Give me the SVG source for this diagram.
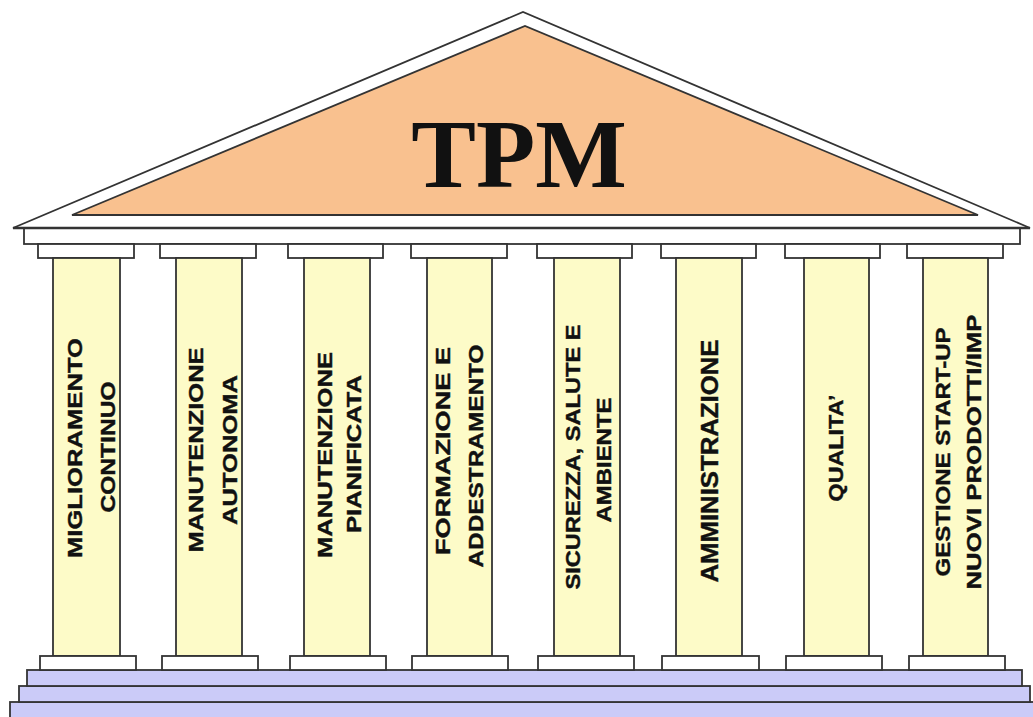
<svg xmlns="http://www.w3.org/2000/svg" width="1033" height="717" viewBox="0 0 1033 717">
<style>
.ln{stroke:#333;stroke-width:1.8;}
.wh{fill:#fff;}
.sh{fill:#fdfbc8;}
.st{fill:#cbcbf8;}
.lb{font-family:"Liberation Sans",Arial,sans-serif;font-weight:bold;font-size:21px;fill:#111;stroke:#111;stroke-width:0.4;text-anchor:middle;}
.tpm{font-family:"Liberation Serif","Times New Roman",serif;font-weight:bold;font-size:97px;fill:#111;text-anchor:middle;}
</style>
<rect width="1033" height="717" fill="#fff"/>
<g id="roof">
<polygon class="ln wh" points="13,228 523,12 1030,228"/>
<polygon class="ln" fill="#f9c18f" points="72,215 525,26 978,215"/>
<text class="tpm" x="519" y="187">TPM</text>
<rect class="ln wh" x="24" y="228" width="996" height="16"/>
<line class="ln" x1="13" y1="228" x2="1030" y2="228" style="stroke-width:2.5"/>
</g>
<g id="base">
<rect class="ln st" x="10" y="702" width="1035" height="25"/>
<rect class="ln st" x="19" y="686" width="1011" height="16"/>
<rect class="ln st" x="27" y="670" width="995" height="16"/>
</g>
<g id="col1">
<rect class="ln wh" x="38" y="244" width="96" height="14"/>
<rect class="ln sh" x="53" y="258" width="67" height="398"/>
<rect class="ln wh" x="40" y="656" width="96" height="14"/>
<text class="lb" transform="translate(82,448) rotate(-90)" textLength="220" lengthAdjust="spacingAndGlyphs">MIGLIORAMENTO</text>
<text class="lb" transform="translate(115,447) rotate(-90)" textLength="131" lengthAdjust="spacingAndGlyphs">CONTINUO</text>
</g>
<g id="col2">
<rect class="ln wh" x="160" y="244" width="96" height="14"/>
<rect class="ln sh" x="176" y="258" width="66" height="398"/>
<rect class="ln wh" x="162" y="656" width="96" height="14"/>
<text class="lb" transform="translate(203,450) rotate(-90)" textLength="205" lengthAdjust="spacingAndGlyphs">MANUTENZIONE</text>
<text class="lb" transform="translate(237,450) rotate(-90)" textLength="150" lengthAdjust="spacingAndGlyphs">AUTONOMA</text>
</g>
<g id="col3">
<rect class="ln wh" x="288" y="244" width="95" height="14"/>
<rect class="ln sh" x="304" y="258" width="66" height="398"/>
<rect class="ln wh" x="290" y="656" width="96" height="14"/>
<text class="lb" transform="translate(332,455) rotate(-90)" textLength="206" lengthAdjust="spacingAndGlyphs">MANUTENZIONE</text>
<text class="lb" transform="translate(361,454) rotate(-90)" textLength="158" lengthAdjust="spacingAndGlyphs">PIANIFICATA</text>
</g>
<g id="col4">
<rect class="ln wh" x="411" y="244" width="96" height="14"/>
<rect class="ln sh" x="427" y="258" width="65" height="398"/>
<rect class="ln wh" x="412" y="656" width="96" height="14"/>
<text class="lb" transform="translate(450,451) rotate(-90)" textLength="208" lengthAdjust="spacingAndGlyphs">FORMAZIONE E</text>
<text class="lb" transform="translate(483,456) rotate(-90)" textLength="223" lengthAdjust="spacingAndGlyphs">ADDESTRAMENTO</text>
</g>
<g id="col5">
<rect class="ln wh" x="537" y="244" width="95" height="14"/>
<rect class="ln sh" x="554" y="258" width="66" height="398"/>
<rect class="ln wh" x="538" y="656" width="96" height="14"/>
<text class="lb" transform="translate(580,457) rotate(-90)" textLength="265" lengthAdjust="spacingAndGlyphs">SICUREZZA, SALUTE E</text>
<text class="lb" transform="translate(611,460) rotate(-90)" textLength="125" lengthAdjust="spacingAndGlyphs">AMBIENTE</text>
</g>
<g id="col6">
<rect class="ln wh" x="661" y="244" width="95" height="14"/>
<rect class="ln sh" x="676" y="258" width="66" height="398"/>
<rect class="ln wh" x="662" y="656" width="97" height="14"/>
<text class="lb" style="font-size:24px" transform="translate(718,461) rotate(-90)" textLength="243" lengthAdjust="spacingAndGlyphs">AMMINISTRAZIONE</text>
</g>
<g id="col7">
<rect class="ln wh" x="785" y="244" width="95" height="14"/>
<rect class="ln sh" x="804" y="258" width="65" height="398"/>
<rect class="ln wh" x="786" y="656" width="96" height="14"/>
<text class="lb" transform="translate(843,448) rotate(-90)" textLength="107" lengthAdjust="spacingAndGlyphs">QUALITA’</text>
</g>
<g id="col8">
<rect class="ln wh" x="907" y="244" width="96" height="14"/>
<rect class="ln sh" x="923" y="258" width="65" height="398"/>
<rect class="ln wh" x="909" y="656" width="96" height="14"/>
<text class="lb" transform="translate(950,452) rotate(-90)" textLength="249" lengthAdjust="spacingAndGlyphs">GESTIONE START-UP</text>
<text class="lb" transform="translate(981,452) rotate(-90)" textLength="275" lengthAdjust="spacingAndGlyphs">NUOVI PRODOTTI/IMP</text>
</g>
</svg>
